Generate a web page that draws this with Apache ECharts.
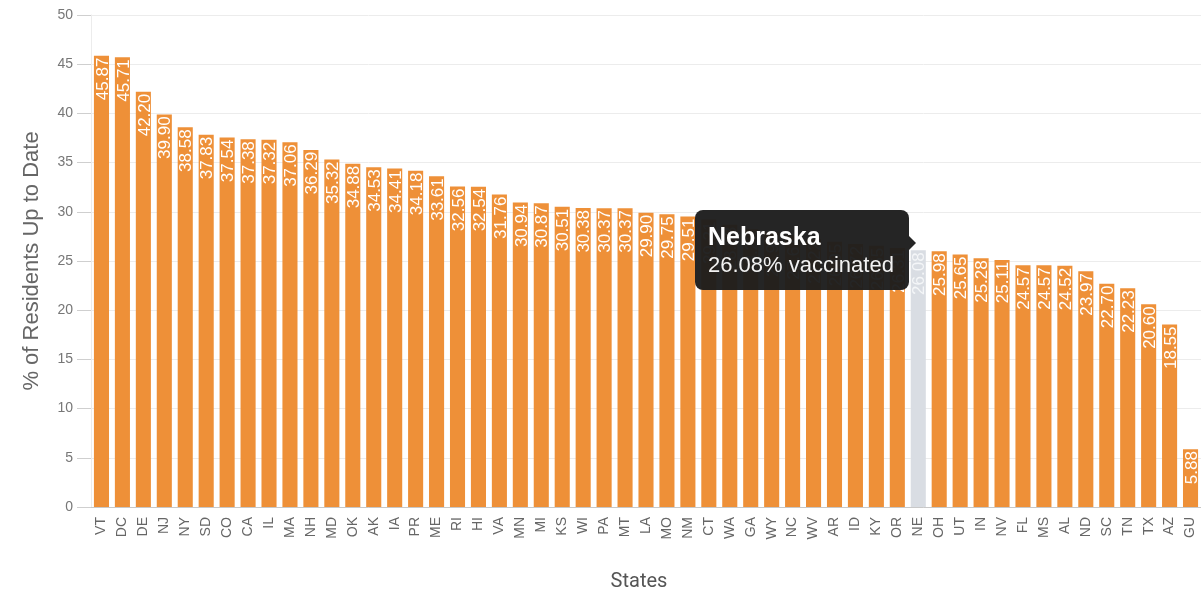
<!DOCTYPE html>
<html>
<head>
<meta charset="utf-8">
<script src="https://cdn.jsdelivr.net/npm/echarts@6/dist/echarts.min.js"></script>
<style>
html,body{margin:0;padding:0;background:#fff;}
#chart{width:1201px;height:597px;}
</style>
</head>
<body>
<div id="chart"></div>
<script>
const states = ["VT","DC","DE","NJ","NY","SD","CO","CA","IL","MA","NH","MD","OK","AK","IA","PR","ME","RI","HI","VA","MN","MI","KS","WI","PA","MT","LA","MO","NM","CT","WA","GA","WY","NC","WV","AR","ID","KY","OR","NE","OH","UT","IN","NV","FL","MS","AL","ND","SC","TN","TX","AZ","GU"];
const stateNames = ["Vermont","District of Columbia","Delaware","New Jersey","New York","South Dakota","Colorado","California","Illinois","Massachusetts","New Hampshire","Maryland","Oklahoma","Alaska","Iowa","Puerto Rico","Maine","Rhode Island","Hawaii","Virginia","Minnesota","Michigan","Kansas","Wisconsin","Pennsylvania","Montana","Louisiana","Missouri","New Mexico","Connecticut","Washington","Georgia","Wyoming","North Carolina","West Virginia","Arkansas","Idaho","Kentucky","Oregon","Nebraska","Ohio","Utah","Indiana","Nevada","Florida","Mississippi","Alabama","North Dakota","South Carolina","Tennessee","Texas","Arizona","Guam"];
const pctUpToDate = [45.87,45.71,42.20,39.90,38.58,37.83,37.54,37.38,37.32,37.06,36.29,35.32,34.88,34.53,34.41,34.18,33.61,32.56,32.54,31.76,30.94,30.87,30.51,30.38,30.37,30.37,29.90,29.75,29.51,29.21,28.68,28.22,27.91,27.61,27.22,26.95,26.72,26.55,26.31,26.08,25.98,25.65,25.28,25.11,24.57,24.57,24.52,23.97,22.70,22.23,20.60,18.55,5.88];
const yTicks = {min:0, max:50, step:5};
const highlightedIndex = 39;

const chart = echarts.init(document.getElementById('chart'), null, {renderer:'canvas'});
const font = '"Liberation Sans", Arial, sans-serif';
const tipBg = 'rgba(28,28,28,0.96)';
chart.setOption({
  animation:false,
  textStyle:{fontFamily:font},
  grid:{left:91, right:0, top:15, bottom:88, containLabel:false},
  tooltip:{
    trigger:'item',
    alwaysShowContent:true,
    backgroundColor:tipBg,
    borderWidth:0,
    borderRadius:8,
    padding:[12,15,12,13],
    position:function(){ return [695,210]; },
    extraCssText:'box-shadow:none;overflow:visible;',
    formatter:function(p){
      return '<div style="position:relative;font-family:Liberation Sans,Arial,sans-serif;color:#fff;">'
        + '<div style="font-weight:bold;font-size:25px;line-height:29px;">'+stateNames[p.dataIndex]+'</div>'
        + '<div style="font-size:22px;line-height:27px;color:#f2f2f2;">'+p.value.toFixed(2)+'% vaccinated</div>'
        + '<div style="position:absolute;right:-22px;top:14px;width:0;height:0;border-top:7px solid transparent;border-bottom:7px solid transparent;border-left:7px solid '+tipBg+';"></div>'
        + '</div>';
    }
  },
  xAxis:{
    type:'category',
    data:states,
    name:'States',
    nameLocation:'middle',
    nameGap:65,
    nameTextStyle:{color:'#555', fontSize:20, fontFamily:'Roboto, sans-serif', padding:[0,14,0,0]},
    axisLine:{lineStyle:{color:'#c8c8c8'}},
    axisTick:{show:false},
    axisLabel:{rotate:90, color:'#666', fontSize:14, margin:10, interval:0}
  },
  yAxis:{
    type:'value',
    min:yTicks.min, max:yTicks.max, interval:yTicks.step,
    name:'% of Residents Up to Date',
    nameLocation:'middle',
    nameGap:48,
    nameTextStyle:{color:'#666', fontSize:22},
    axisLine:{show:true, lineStyle:{color:'#ececec'}},
    axisTick:{show:true, length:14, lineStyle:{color:'#cfcfcf'}},
    axisLabel:{color:'#777', fontSize:14, margin:18},
    splitLine:{lineStyle:{color:'#ececec'}}
  },
  series:[{
    type:'bar',
    data:pctUpToDate,
    barCategoryGap:'28%',
    itemStyle:{color:'#EE9038'},
    emphasis:{itemStyle:{color:'#d9dde3'}, label:{color:'#f4f6f8'}},
    label:{
      show:true,
      position:'insideTop',
      rotate:90,
      align:'right',
      verticalAlign:'middle',
      distance:2,
      offset:[0,1.5],
      color:'#fff',
      fontSize:17,
      formatter:function(p){ return p.value.toFixed(2); }
    }
  }]
});
chart.dispatchAction({type:'highlight', seriesIndex:0, dataIndex:highlightedIndex});
chart.dispatchAction({type:'showTip', seriesIndex:0, dataIndex:highlightedIndex});
</script>
</body>
</html>
